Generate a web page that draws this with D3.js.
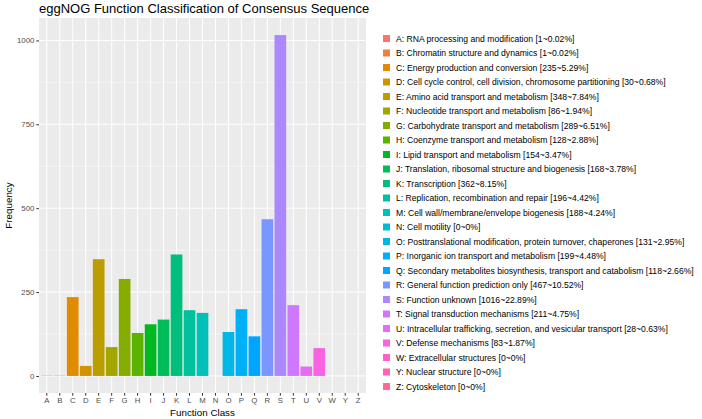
<!DOCTYPE html>
<html>
<head>
<meta charset="utf-8">
<script src="https://cdn.jsdelivr.net/npm/d3@7"></script>
<style>
  body { margin: 0; background: #fff; }
  svg { display: block; font-family: "Liberation Sans", Arial, sans-serif; }
</style>
</head>
<body>
<div id="chart"></div>
<script>
// Kategorien (ohne X, wie im Original)
const classes = ["A","B","C","D","E","F","G","H","I","J","K","L","M","N","O","P","Q","R","S","T","U","V","W","Y","Z"];
// Anzahl je Klasse
const counts = [1,1,235,30,348,86,289,128,154,168,362,196,188,0,131,199,118,467,1016,211,28,83,0,0,0];
// Beschreibungen für die Legende
const descriptions = [
  "RNA processing and modification",
  "Chromatin structure and dynamics",
  "Energy production and conversion",
  "Cell cycle control, cell division, chromosome partitioning",
  "Amino acid transport and metabolism",
  "Nucleotide transport and metabolism",
  "Carbohydrate transport and metabolism",
  "Coenzyme transport and metabolism",
  "Lipid transport and metabolism",
  "Translation, ribosomal structure and biogenesis",
  "Transcription",
  "Replication, recombination and repair",
  "Cell wall/membrane/envelope biogenesis",
  "Cell motility",
  "Posttranslational modification, protein turnover, chaperones",
  "Inorganic ion transport and metabolism",
  "Secondary metabolites biosynthesis, transport and catabolism",
  "General function prediction only",
  "Function unknown",
  "Signal transduction mechanisms",
  "Intracellular trafficking, secretion, and vesicular transport",
  "Defense mechanisms",
  "Extracellular structures",
  "Nuclear structure",
  "Cytoskeleton"
];
const percents = ["0.02","0.02","5.29","0.68","7.84","1.94","6.51","2.88","3.47","3.78","8.15","4.42","4.24","0","2.95","4.48","2.66","10.52","22.89","4.75","0.63","1.87","0","0","0"];
const yTicks = [0, 250, 500, 750, 1000];
const yMinor = [125, 375, 625, 875];

const W = 702, H = 419;
// Panel-Grenzen
const panel = {left: 39, right: 366, top: 18, bottom: 393};

/**
 * ggplot-Farbpalette (hue_pal): polar LUV -> sRGB
 */
function hclLuv(h, c, l) {
    const rad = h * Math.PI / 180;
    const u = c * Math.cos(rad), v = c * Math.sin(rad);
    const Y = 100 * Math.pow((l + 16) / 116, 3);
    const un = 0.1978398, vn = 0.4683363;
    const up = u / (13 * l) + un, vp = v / (13 * l) + vn;
    const X = 9.0 * Y * up / (4 * vp);
    const Z = -X / 3 - 5 * Y + 3 * Y / vp;
    const x = X / 100, y = Y / 100, z = Z / 100;
    let r = 3.240479 * x - 1.537150 * y - 0.498535 * z;
    let g = -0.969256 * x + 1.875992 * y + 0.041556 * z;
    let b = 0.055648 * x - 0.204043 * y + 1.057311 * z;
    const gam = t => {
        t = t > 0.00304 ? 1.055 * Math.pow(t, 1 / 2.4) - 0.055 : 12.92 * t;
        return Math.round(255 * Math.max(0, Math.min(1, t)));
    };
    return d3.rgb(gam(r), gam(g), gam(b)).formatHex();
}
const n = classes.length;
const palette = d3.range(n).map(i => hclLuv(15 + i * 360 / n, 100, 65));
const color = d3.scaleOrdinal().domain(classes).range(palette);

const svg = d3.select('#chart').append('svg').attr('width', W).attr('height', H);

// Skalen (ggplot: 0.6 Schritte Rand, Balkenbreite 0.9)
const x = d3.scaleBand().domain(classes)
    .range([panel.left, panel.right])
    .paddingInner(0.1).paddingOuter(0.15);
const y = d3.scaleLinear().domain([-50.8, 1066.8]).range([panel.bottom, panel.top]);

// Hintergrund
svg.append('rect')
    .attr('x', panel.left).attr('y', panel.top)
    .attr('width', panel.right - panel.left).attr('height', panel.bottom - panel.top)
    .attr('fill', '#EBEBEB');

// Gitterlinien
svg.append('g').selectAll('line').data(yMinor).enter().append('line')
    .attr('x1', panel.left).attr('x2', panel.right)
    .attr('y1', d => y(d)).attr('y2', d => y(d))
    .attr('stroke', '#fff').attr('stroke-width', 0.5);
svg.append('g').selectAll('line').data(yTicks).enter().append('line')
    .attr('x1', panel.left).attr('x2', panel.right)
    .attr('y1', d => y(d)).attr('y2', d => y(d))
    .attr('stroke', '#fff').attr('stroke-width', 1);
svg.append('g').selectAll('line').data(classes).enter().append('line')
    .attr('x1', d => x(d) + x.bandwidth() / 2).attr('x2', d => x(d) + x.bandwidth() / 2)
    .attr('y1', panel.top).attr('y2', panel.bottom)
    .attr('stroke', '#fff').attr('stroke-width', 1);

// Balken
svg.append('g').selectAll('rect').data(classes).enter().append('rect')
    .attr('x', d => x(d))
    .attr('width', x.bandwidth())
    .attr('y', (d, i) => y(counts[i]))
    .attr('height', (d, i) => y(0) - y(counts[i]))
    .attr('fill', d => color(d));

// Achsen
const yAxis = svg.append('g')
    .attr('transform', `translate(${panel.left},0)`)
    .call(d3.axisLeft(y).tickValues(yTicks).tickFormat(d3.format('d')).tickSize(2.7).tickPadding(2));
const xAxis = svg.append('g')
    .attr('transform', `translate(0,${panel.bottom})`)
    .call(d3.axisBottom(x).tickSize(2.7).tickPadding(2));
[yAxis, xAxis].forEach(a => {
    a.select('.domain').remove();
    a.selectAll('.tick line').attr('stroke', '#333').attr('stroke-width', 1);
    a.selectAll('.tick text').attr('fill', '#4D4D4D').style('font-size', '7.8px')
        .style('font-family', '"Liberation Sans", Arial, sans-serif');
});

// Titel und Achsentitel
svg.append('text').attr('x', panel.left).attr('y', 13)
    .style('font-size', '13px').attr('fill', '#000')
    .text('eggNOG Function Classification of Consensus Sequence');
svg.append('text')
    .attr('transform', `translate(12,${(panel.top + panel.bottom) / 2}) rotate(-90)`)
    .attr('text-anchor', 'middle').style('font-size', '9.8px').attr('fill', '#000')
    .text('Frequency');
svg.append('text').attr('x', (panel.left + panel.right) / 2).attr('y', 416)
    .attr('text-anchor', 'middle').style('font-size', '9.8px').attr('fill', '#000')
    .text('Function Class');

// Legende
const legend = svg.append('g');
const rows = legend.selectAll('g').data(classes).enter().append('g')
    .attr('transform', (d, i) => `translate(383,${38.5 + i * 14.5})`);
rows.append('rect').attr('x', 0).attr('y', -3.5).attr('width', 7).attr('height', 7)
    .attr('fill', d => color(d));
rows.append('text').attr('x', 13).attr('y', 3)
    .style('font-size', '8.6px').attr('fill', '#000')
    .text((d, i) => `${d}: ${descriptions[i]} [${counts[i]}~${percents[i]}%]`);
</script>
</body>
</html>
